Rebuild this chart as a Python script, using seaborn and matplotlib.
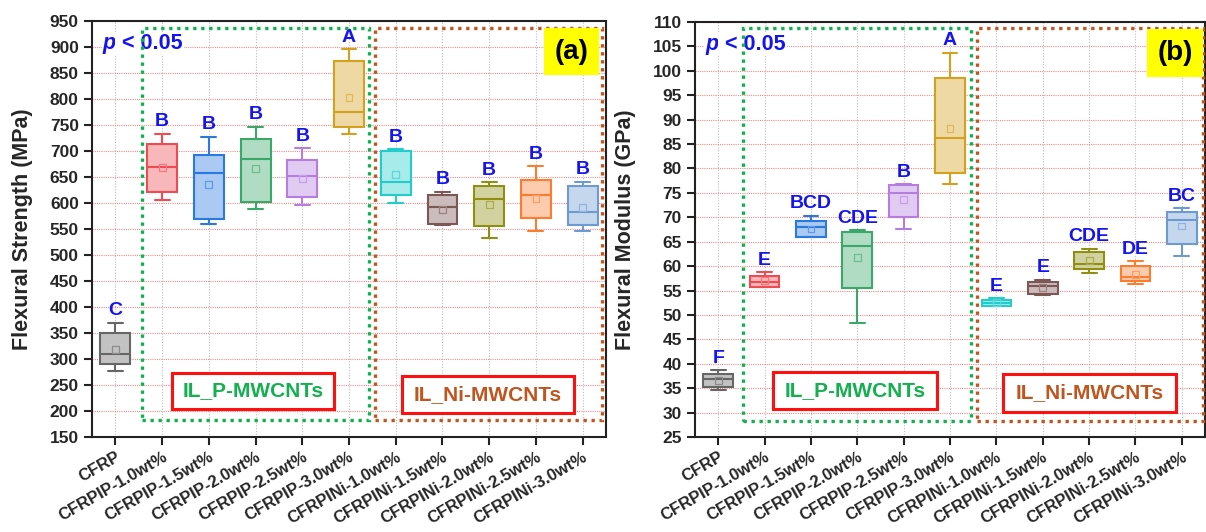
import numpy as np
import pandas as pd
import matplotlib
matplotlib.use("Agg")
import matplotlib.pyplot as plt
from matplotlib.patches import Rectangle
import seaborn as sns

# ---------------- data ----------------
categories = ["CFRP", "CFRPIP-1.0wt%", "CFRPIP-1.5wt%", "CFRPIP-2.0wt%", "CFRPIP-2.5wt%",
              "CFRPIP-3.0wt%", "CFRPINi-1.0wt%", "CFRPINi-1.5wt%", "CFRPINi-2.0wt%",
              "CFRPINi-2.5wt%", "CFRPINi-3.0wt%"]

# panel (a) flexural strength (MPa): whisker low, Q1, median, Q3, whisker high, mean
strength_low = [276, 606, 559, 589, 597, 732, 600, 557, 533, 547, 546]
strength_q1 = [290, 622, 570, 602, 611, 747, 615, 559, 556, 571, 557]
strength_med = [310, 669, 657, 685, 652, 774, 640, 592, 607, 616, 583]
strength_q3 = [349, 714, 693, 723, 683, 873, 700, 615, 632, 644, 632]
strength_high = [370, 733, 727, 747, 705, 896, 703, 622, 640, 671, 641]
strength_mean = [318, 668, 636, 667, 647, 803, 655, 587, 597, 609, 592]
strength_letters = ["C", "B", "B", "B", "B", "A", "B", "B", "B", "B", "B"]

# panel (b) flexural modulus (GPa)
modulus_low = [34.7, 55.8, 66.0, 48.4, 67.6, 76.9, 51.9, 54.1, 58.5, 56.3, 62.0]
modulus_q1 = [35.2, 55.8, 66.0, 55.5, 70.1, 79.0, 51.9, 54.2, 59.4, 56.9, 64.6]
modulus_med = [36.95, 56.7, 68.05, 64.1, 74.9, 86.2, 52.4, 56.0, 60.4, 57.7, 69.35]
modulus_q3 = [37.8, 58.0, 69.2, 66.9, 76.6, 98.5, 53.0, 56.8, 62.9, 60.0, 71.05]
modulus_high = [38.7, 58.8, 70.3, 67.4, 76.8, 103.7, 53.4, 57.2, 63.55, 61.0, 71.9]
modulus_mean = [36.5, 57.0, 67.6, 61.8, 73.6, 88.2, 52.6, 55.7, 61.1, 58.3, 68.2]
modulus_letters = ["F", "E", "BCD", "CDE", "B", "A", "E", "E", "CDE", "DE", "BC"]

edge_colors = ["#666666", "#ee4c52", "#2a79e0", "#3aa86a", "#b57de0", "#d4a11e",
               "#22cccc", "#7d5656", "#8f8f14", "#fa7d32", "#6d9bd1"]

FONT = "Liberation Sans"
LETTER_BLUE = "#1414f0"
GREEN = "#12b04e"
BROWN = "#c0561f"

sns.set_style("ticks")
plt.rcParams["font.family"] = [FONT, "DejaVu Sans"]
plt.rcParams["font.weight"] = "bold"


def lighten(c, a=0.4):
    r, g, b = matplotlib.colors.to_rgb(c)
    return (1 - a * (1 - r), 1 - a * (1 - g), 1 - a * (1 - b))


def make_long(low, q1, med, q3, high):
    rows = []
    for cat, vals in zip(categories, zip(low, q1, med, q3, high)):
        for v in vals:
            rows.append((cat, v))
    return pd.DataFrame(rows, columns=["cat", "val"])


def draw_panel(ax, df, means, letters, ylim, ystep, ylabel, tag, boxes):
    sns.boxplot(data=df, x="cat", y="val", hue="cat", order=categories,
                hue_order=categories, palette=[lighten(c) for c in edge_colors],
                whis=np.inf, width=0.64, saturation=1, linewidth=1.5,
                legend=False, ax=ax, zorder=3)
    conts = [c for c in ax.containers if hasattr(c, "boxes")]
    for cont, ec in zip(conts, edge_colors):
        for b in cont.boxes:
            b.set_edgecolor(ec)
            b.set_facecolor(lighten(ec))
            b.set_linewidth(1.5)
        for ln in list(cont.whiskers) + list(cont.caps) + list(cont.medians):
            ln.set_color(ec)
            ln.set_linewidth(1.5)
    # means
    ax.scatter(range(len(categories)), means, marker="s", s=24, facecolors="none",
               edgecolors=[lighten(c, 0.75) for c in edge_colors], linewidths=0.9, zorder=4)
    # significance letters
    highs = df.groupby("cat", sort=False)["val"].max().reindex(categories).values
    for i, (h, lt) in enumerate(zip(highs, letters)):
        ax.annotate(lt, xy=(i, h), xytext=(0, 2.5), textcoords="offset points",
                    ha="center", va="bottom", color=LETTER_BLUE, fontsize=14,
                    fontweight="bold", zorder=6)

    ax.set_xlim(-0.5, len(categories) - 0.5)
    ax.set_ylim(*ylim)
    ax.set_yticks(np.arange(ylim[0], ylim[1] + ystep / 2, ystep))
    ax.set_xlabel("")
    ax.set_ylabel(ylabel, fontsize=15.5, fontweight="bold", labelpad=12)
    ax.set_xticks(range(len(categories)))
    ax.set_xticklabels(categories, rotation=30, ha="right", va="top",
                       rotation_mode="anchor", fontsize=12, fontweight="bold")
    for lab in ax.get_yticklabels():
        lab.set_fontweight("bold")
        lab.set_fontsize(12.5)
    ax.tick_params(axis="both", direction="out", length=6, width=1.5, color="#222222")
    ax.tick_params(axis="x", pad=3)
    for sp in ax.spines.values():
        sp.set_visible(True)
        sp.set_linewidth(1.5)
        sp.set_color("#222222")

    ax.set_axisbelow(True)
    ax.grid(axis="y", color="#f08a8a", linestyle=(0, (1, 1)), linewidth=0.8)
    ax.grid(axis="x", color="#bdbdbd", linestyle=(0, (1, 1.5)), linewidth=0.8)

    # p < 0.05
    t = ax.text(0.021, 0.933, "p", transform=ax.transAxes, fontsize=15.5, fontstyle="italic",
                fontweight="bold", color=LETTER_BLUE, ha="left", va="baseline", zorder=5,
                bbox=dict(facecolor="white", edgecolor="none", pad=1))
    ax.annotate(" < 0.05", xy=(1, 0), xycoords=t, fontsize=15.5, fontweight="bold",
                color=LETTER_BLUE, ha="left", va="bottom", zorder=5,
                bbox=dict(facecolor="white", edgecolor="none", pad=1))

    # dotted group frames
    gx0, gx1, bx0, bx1, y0, y1 = boxes["frames"]
    ax.add_patch(Rectangle((gx0, y0), gx1 - gx0, y1 - y0, transform=ax.transAxes,
                           fill=False, edgecolor=GREEN, linestyle=(0, (1, 1.4)),
                           linewidth=2.4, zorder=6, clip_on=False))
    ax.add_patch(Rectangle((bx0, y0), bx1 - bx0, y1 - y0, transform=ax.transAxes,
                           fill=False, edgecolor=BROWN, linestyle=(0, (1, 1.4)),
                           linewidth=2.4, zorder=6, clip_on=False))
    # group label boxes
    for (x0, x1, yb0, yb1), txt, col in zip(boxes["labels"], ["IL_P-MWCNTs", "IL_Ni-MWCNTs"],
                                            [GREEN, BROWN]):
        ax.add_patch(Rectangle((x0, yb0), x1 - x0, yb1 - yb0, transform=ax.transAxes,
                               facecolor="white", edgecolor="#ff1010", linewidth=2.2, zorder=7))
        ax.text((x0 + x1) / 2, (yb0 + yb1) / 2, txt, transform=ax.transAxes, ha="center",
                va="center", fontsize=15, fontweight="bold", color=col, zorder=8)
    # panel tag
    tx0, tx1, ty0, ty1 = boxes["tag"]
    ax.add_patch(Rectangle((tx0, ty0), tx1 - tx0, ty1 - ty0, transform=ax.transAxes,
                           facecolor="#ffff00", edgecolor="none", zorder=7))
    ax.text((tx0 + tx1) / 2, (ty0 + ty1) / 2, tag, transform=ax.transAxes, ha="center",
            va="center", fontsize=20, fontweight="bold", color="black", zorder=8)


fig = plt.figure(figsize=(12.06, 5.32), dpi=100)
ax1 = fig.add_axes([0.0763, 0.1786, 0.4262, 0.782])
ax2 = fig.add_axes([0.5763, 0.1786, 0.4229, 0.780])

draw_panel(ax1, make_long(strength_low, strength_q1, strength_med, strength_q3, strength_high),
           strength_mean, strength_letters, (150, 950), 50, "Flexural Strength (MPa)", "(a)",
           {"frames": (0.097, 0.539, 0.551, 0.992, 0.041, 0.983),
            "labels": [(0.156, 0.471, 0.067, 0.154), (0.603, 0.938, 0.058, 0.147)],
            "tag": (0.879, 0.986, 0.870, 0.983)})
draw_panel(ax2, make_long(modulus_low, modulus_q1, modulus_med, modulus_q3, modulus_high),
           modulus_mean, modulus_letters, (25, 110), 5, "Flexural Modulus (GPa)", "(b)",
           {"frames": (0.094, 0.541, 0.553, 0.996, 0.039, 0.986),
            "labels": [(0.153, 0.475, 0.067, 0.157), (0.604, 0.943, 0.060, 0.152)],
            "tag": (0.886, 0.996, 0.867, 0.983)})

fig.savefig("out.png", dpi=100)
